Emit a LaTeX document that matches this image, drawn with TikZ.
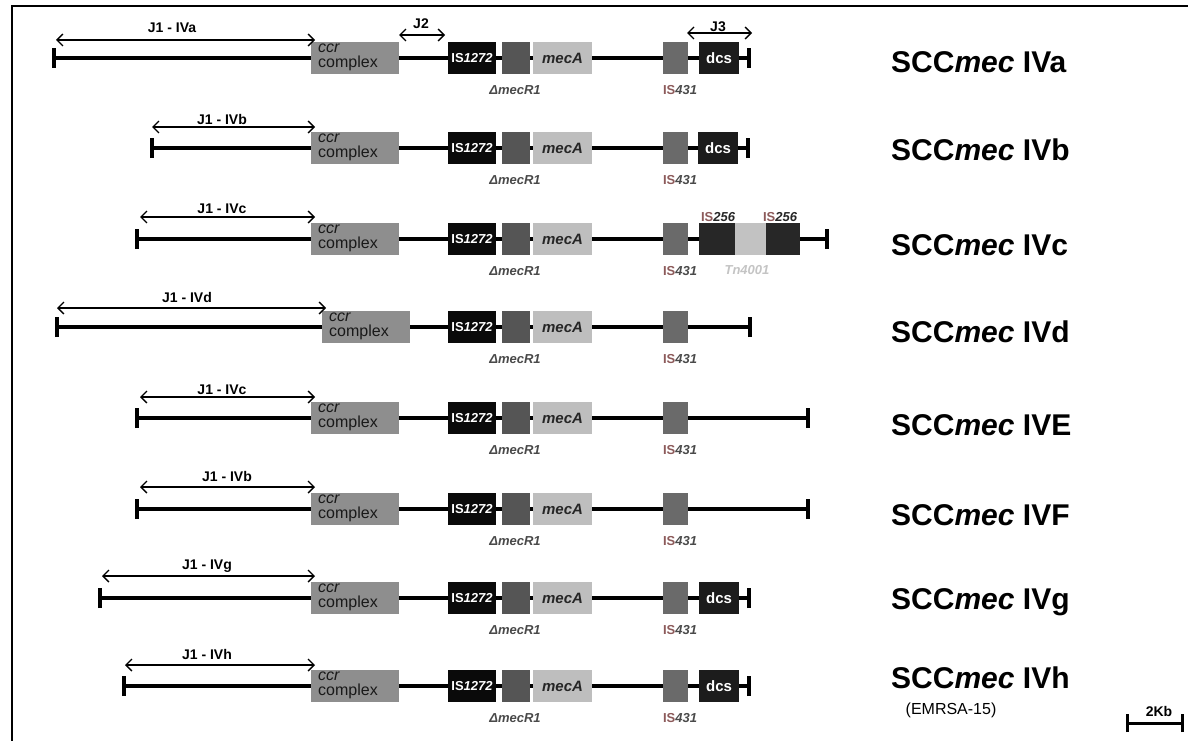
\documentclass[tikz,border=0pt]{standalone}
\usepackage{fontspec}
\setmainfont{Liberation Sans}
\usetikzlibrary{arrows.meta}
\definecolor{ccrfill}{HTML}{8E8E8E}
\definecolor{isfill}{HTML}{0A0A0A}
\definecolor{rfill}{HTML}{555555}
\definecolor{mafill}{HTML}{BEBEBE}
\definecolor{fourfill}{HTML}{6A6A6A}
\definecolor{dcsfill}{HTML}{1C1C1C}
\definecolor{tsfill}{HTML}{272727}
\definecolor{tnfill}{HTML}{C2C2C2}
\definecolor{isred}{HTML}{8C5A5A}
\definecolor{subgray}{HTML}{4A4A4A}
\definecolor{tngray}{HTML}{C4C4C4}
\newcommand\fz[1]{\fontsize{#1}{#1}\selectfont}
\tikzset{
 backbone/.style={line width=4.5pt},
 endbar/.style={line width=3.5pt},
 jspan/.style={line width=1.4pt, {Straight Barb[length=6pt,width=12pt,line width=1.4pt]}-{Straight Barb[length=6pt,width=12pt,line width=1.4pt]}},
 gbox/.style={rectangle, inner sep=0pt, outer sep=0pt, minimum height=32pt},
 ccrbox/.style={gbox, fill=ccrfill, minimum width=88pt},
 ccrtext/.style={inner sep=0pt, anchor=north west, align=left, text=black!90, font=\fz{16}},
 isbox/.style={gbox, fill=isfill, minimum width=48pt, text=white, font=\bfseries\fz{13}},
 rbox/.style={gbox, fill=rfill, minimum width=28pt},
 mabox/.style={gbox, fill=mafill, minimum width=59pt, font=\bfseries\itshape\fz{15}, text=black!85},
 fourbox/.style={gbox, fill=fourfill, minimum width=25pt},
 dcsbox/.style={gbox, fill=dcsfill, minimum width=40pt, text=white, font=\bfseries\fz{15}},
 tsbox/.style={gbox, fill=tsfill},
 tnbox/.style={gbox, fill=tnfill},
 sublab/.style={inner sep=0pt, font=\bfseries\itshape\fz{13}, text=subgray},
 jlab/.style={inner sep=0pt, font=\bfseries\fz{14}},
 rowtitle/.style={inner sep=0pt, anchor=west, font=\bfseries\fz{30}},
}
\newcommand\backb[4]{% name, y, xl, xr
 \coordinate (#1-L) at (#3,#2); \coordinate (#1-R) at (#4,#2);
 \draw[backbone] (#1-L) -- (#1-R);
 \draw[endbar] ([yshift=-10pt]#1-L) -- ([yshift=10pt]#1-L);
 \draw[endbar] ([yshift=-10pt]#1-R) -- ([yshift=10pt]#1-R);
}
\newcommand\corerow[2]{% name, y
 \node[isbox] (#1-is) at (472,#2) {IS\textit{1272}};
 \node[rbox] (#1-r) at (516,#2) {};
 \node[mabox] (#1-ma) at (562.5,#2) {mecA};
 \node[fourbox] (#1-f) at (675.5,#2) {};
 \node[sublab] (#1-rl) at (515,{#2+32}) {Δmec\textit{R1}};
 \node[sublab] (#1-fl) at (680,{#2+32}) {\textcolor{isred}{\upshape IS}431};
}
\newcommand\ccrat[3]{% name, x, y
 \node[ccrbox] (#1-ccr) at (#2,#3) {};
 \node[ccrtext] (#1-ccrt) at ([xshift=7pt,yshift=-2pt]#1-ccr.north west) {\textit{ccr}\\[-1pt]complex};
}
\newcommand\jone[7]{% name, y, x1, x2, lx, ly, text
 \coordinate (#1-ja) at (#3,#2); \coordinate (#1-jb) at (#4,#2);
 \draw[jspan] (#1-ja) -- (#1-jb);
 \node[jlab] (#1-jl) at (#5,#6) {#7};
}
\newcommand\rtitle[3]{\node[rowtitle] (#1-t) at (891,#2) {SCC\textit{mec} #3};}
\begin{document}
\begin{tikzpicture}[x=1pt,y=-1pt]
\useasboundingbox (0,0) rectangle (1188,741);
\clip (0,0) rectangle (1188,741);
\fill[white] (0,0) rectangle (1188,741);
\draw[line width=2pt] (12,6) rectangle (1260,800);

% Row IVa
\backb{a}{58}{54}{749}
\ccrat{a}{355}{58}
\corerow{a}{58}
\node[dcsbox] (a-d) at (719,58) {dcs};
\jone{a}{40}{56}{315}{172}{28}{J1 - IVa}
\coordinate (a-j2a) at (399,35); \coordinate (a-j2b) at (445,35);
\draw[jspan] (a-j2a) -- (a-j2b);
\node[jlab] (a-j2l) at (421,24) {J2};
\coordinate (a-j3a) at (687,33); \coordinate (a-j3b) at (752,33);
\draw[jspan] (a-j3a) -- (a-j3b);
\node[jlab] (a-j3l) at (718,27) {J3};
\rtitle{a}{62}{IVa}

% Row IVb
\backb{b}{148}{152}{748}
\ccrat{b}{355}{148}
\corerow{b}{148}
\node[dcsbox] (b-d) at (718,148) {dcs};
\jone{b}{127}{152}{315}{222}{119}{J1 - IVb}
\rtitle{b}{150}{IVb}

% Row IVc
\backb{c}{239}{137}{827}
\ccrat{c}{355}{239}
\corerow{c}{239}
\node[tsbox, minimum width=36pt] (c-s1) at (717,239) {};
\node[tnbox, minimum width=31pt] (c-tn) at (750.5,239) {};
\node[tsbox, minimum width=34pt] (c-s2) at (783,239) {};
\node[sublab, text=black!85] (c-s1l) at (718,217) {\textcolor{isred}{\upshape IS}256};
\node[sublab, text=black!85] (c-s2l) at (780,217) {\textcolor{isred}{\upshape IS}256};
\node[sublab, text=tngray] (c-tnl) at (747,270) {Tn4001};
\jone{c}{217}{140}{315}{222}{209}{J1 - IVc}
\rtitle{c}{245}{IVc}

% Row IVd
\backb{d}{327}{57}{750}
\ccrat{d}{366}{327}
\corerow{d}{327}
\jone{d}{308}{57}{326}{187}{297}{J1 - IVd}
\rtitle{d}{332}{IVd}

% Row IVE
\backb{e}{418}{137}{808}
\ccrat{e}{355}{418}
\corerow{e}{418}
\jone{e}{397}{140}{315}{222}{390}{J1 - IVc}
\rtitle{e}{425}{IVE}

% Row IVF
\backb{f}{509}{137}{808}
\ccrat{f}{355}{509}
\corerow{f}{509}
\jone{f}{487}{140}{315}{227}{476}{J1 - IVb}
\rtitle{f}{515}{IVF}

% Row IVg
\backb{g}{598}{100}{749}
\ccrat{g}{355}{598}
\corerow{g}{598}
\node[dcsbox] (g-d) at (719,598) {dcs};
\jone{g}{576}{102}{315}{207}{566}{J1 - IVg}
\rtitle{g}{602}{IVg}

% Row IVh
\backb{h}{686}{124}{749}
\ccrat{h}{355}{686}
\corerow{h}{686}
\node[dcsbox] (h-d) at (719,686) {dcs};
\jone{h}{665}{125}{315}{207}{654}{J1 - IVh}
\rtitle{h}{678}{IVh}
\node[inner sep=0pt, font=\fz{16}] (h-em) at (951,710) {(EMRSA-15)};

% scale bar
\coordinate (sb-L) at (1127,723); \coordinate (sb-R) at (1182,723);
\draw[line width=3pt] (sb-L) -- (sb-R);
\draw[line width=3pt] ([yshift=-9pt]sb-L) -- ([yshift=9pt]sb-L);
\draw[line width=3pt] ([yshift=-9pt]sb-R) -- ([yshift=9pt]sb-R);
\node[jlab] (sb-l) at (1159,711) {2Kb};
\end{tikzpicture}
\end{document}
